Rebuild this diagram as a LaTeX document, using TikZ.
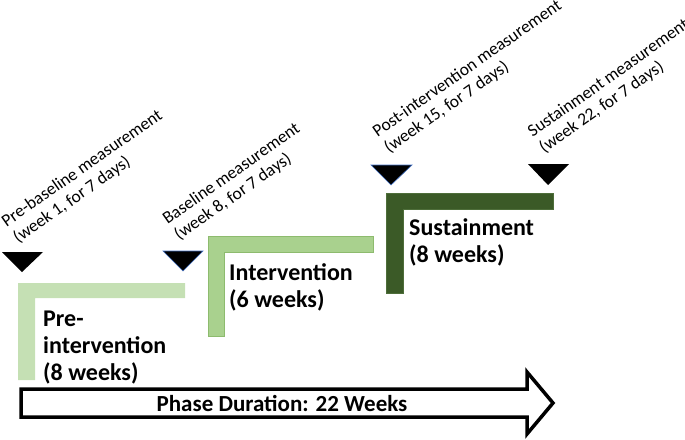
\documentclass[tikz,border=0pt]{standalone}
\usepackage{fontspec}
\setmainfont{Carlito}
\definecolor{preg}{HTML}{C5E0B4}
\definecolor{intg}{HTML}{A9D18E}
\definecolor{intgb}{HTML}{8DBB6E}
\definecolor{susg}{HTML}{3B5A27}
\definecolor{susgb}{HTML}{4E6E3A}
\definecolor{triblue}{HTML}{4472C4}
\begin{document}
\begin{tikzpicture}[x=1pt,y=-1pt,
  measlabel/.style={anchor=base west, align=left, inner sep=0pt, rotate=35,
    font=\fontsize{17.5}{20}\selectfont},
  phaselabel/.style={anchor=base west, align=left, inner sep=0pt,
    font=\bfseries\fontsize{24}{27}\selectfont},
  marker/.style={fill=black},
  bluemarker/.style={fill=black, draw=triblue, line width=0.6pt, line join=miter},
  prebar/.style={fill=preg},
  intbar/.style={fill=intg, draw=intgb, line width=0.8pt},
  susbar/.style={fill=susg, draw=susgb, line width=0.8pt},
  durarrow/.style={draw=black, fill=white, line width=3.5pt, line join=miter}]
\useasboundingbox (0,0) rectangle (685,439);
% measurement markers
\fill[marker] (2,252) -- (43,252) -- (22,272) -- cycle;
\filldraw[bluemarker] (163,251) -- (203,251) -- (183,271) -- cycle;
\filldraw[bluemarker] (371,165) -- (412,165) -- (391,185) -- cycle;
\fill[marker] (528,164) -- (569,164) -- (548,185) -- cycle;
% phase L shapes
\fill[prebar] (18,283) -- (185,283) -- (185,298) -- (35,298) -- (35,380) -- (18,380) -- cycle;
\filldraw[intbar] (208,236) -- (373,236) -- (373,252) -- (224,252) -- (224,336) -- (208,336) -- cycle;
\filldraw[susbar] (386,193) -- (553,193) -- (553,209) -- (403,209) -- (403,293) -- (386,293) -- cycle;
% labels (anchored at the baseline of their last line)
\node[measlabel] (m1) at (18,244) {Pre-baseline measurement\\(week 1, for 7 days)};
\node[measlabel] (m2) at (179,241) {Baseline measurement\\(week 8, for 7 days)};
\node[measlabel] (m3) at (389,154) {Post-intervention measurement\\(week 15, for 7 days)};
\node[measlabel] (m4) at (544,154) {Sustainment measurement\\(week 22, for 7 days)};
\node[phaselabel] (p1) at (43,380) {Pre-\\intervention\\(8 weeks)};
\node[phaselabel] (p2) at (229,307) {Intervention\\(6 weeks)};
\node[phaselabel] (p3) at (409,262) {Sustainment\\(8 weeks)};
% duration arrow
\draw[durarrow] (21,389) -- (527,389) -- (527,372) -- (553,403) -- (527,434) -- (527,417) -- (21,417) -- cycle;
\node[font=\bfseries\fontsize{23}{26}\selectfont, inner sep=0pt] (dur) at (282,403) {Phase Duration: 22 Weeks};
\end{tikzpicture}
\end{document}
